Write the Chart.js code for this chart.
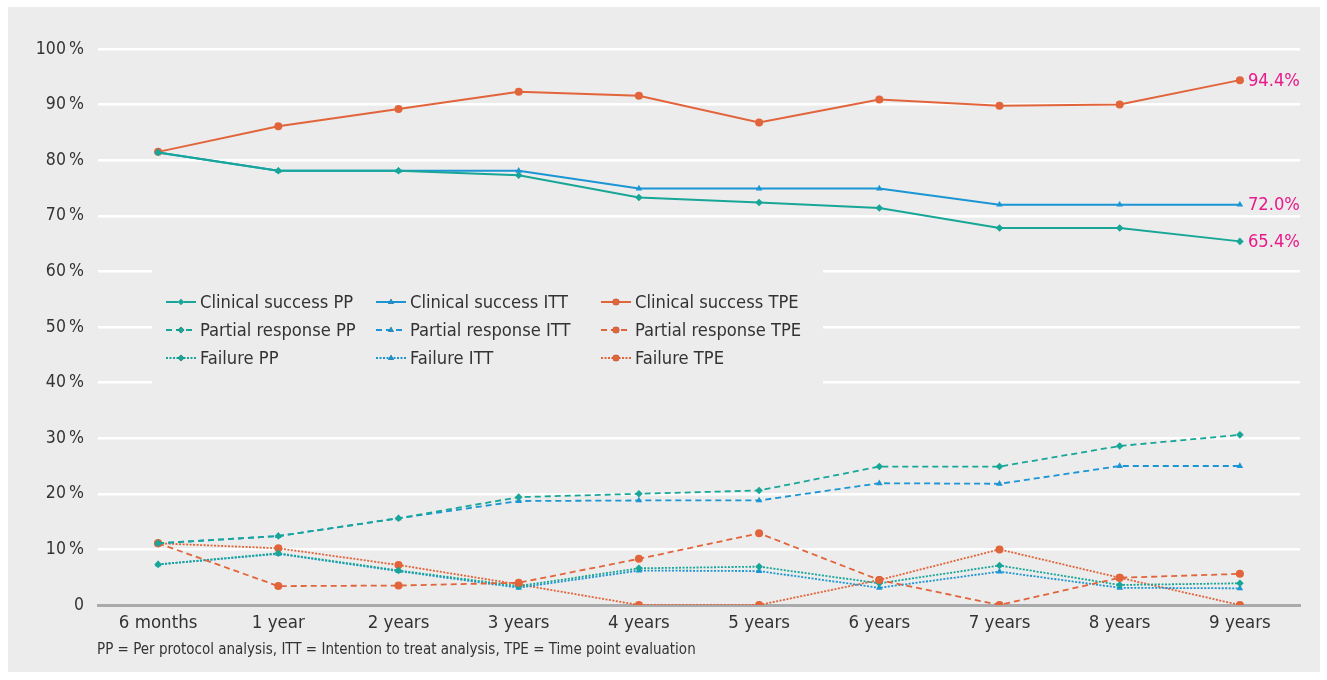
<!DOCTYPE html>
<html lang="en">
<head>
  <meta charset="UTF-8">
  <script src="https://cdn.jsdelivr.net/npm/chart.js"></script>
  <style>
    body { margin: 0; background: #ffffff; }
    #wrap { position: relative; width: 1327px; height: 680px; }
  </style>
  <title>Clinical success over time</title>
</head>
<body>
  <div id="wrap"><canvas id="chart" width="1327" height="680"></canvas></div>
  <script>
    const categories = ['6 months', '1 year', '2 years', '3 years', '4 years', '5 years', '6 years', '7 years', '8 years', '9 years'];

    const successPP  = [81.4, 78.1, 78.1, 77.3, 73.3, 72.4, 71.4, 67.8, 67.8, 65.4];
    const successITT = [81.4, 78.1, 78.1, 78.1, 74.9, 74.9, 74.9, 72.0, 72.0, 72.0];
    const successTPE = [81.5, 86.1, 89.2, 92.3, 91.6, 86.8, 90.9, 89.8, 90.0, 94.4];
    const partialPP  = [11.1, 12.4, 15.6, 19.4, 20.0, 20.6, 24.9, 24.9, 28.6, 30.6];
    const partialITT = [11.1, 12.4, 15.6, 18.7, 18.8, 18.8, 21.9, 21.8, 25.0, 25.0];
    const partialTPE = [11.1, 3.4, 3.5, 4.0, 8.3, 12.9, 4.5, 0, 4.9, 5.6];
    const failurePP  = [7.3, 9.3, 6.2, 3.4, 6.6, 6.9, 3.9, 7.1, 3.6, 3.9];
    const failureITT = [7.3, 9.2, 6.1, 3.1, 6.2, 6.1, 3.1, 6.0, 3.1, 3.0];
    const failureTPE = [11.1, 10.2, 7.2, 3.7, 0, 0, 4.5, 10.0, 4.9, 0];

    const yTicks = [0, 10, 20, 30, 40, 50, 60, 70, 80, 90, 100];
    const footnote = 'PP = Per protocol analysis, ITT = Intention to treat analysis, TPE = Time point evaluation';

    const teal = '#17a697';
    const blue = '#1b95d4';
    const orange = '#e2643b';
    const bg = '#ebeceb';
    const textCol = '#333333';
    const FONT = "'Liberation Sans Narrow', 'DejaVu Sans Condensed', sans-serif";

    function series(label, data, color, style, marker) {
      const dash = style === 'dash' ? [6, 4] : style === 'dot' ? [2, 1.5] : [];
      return {
        label: label,
        data: data,
        borderColor: color,
        backgroundColor: color,
        borderWidth: style === 'solid' ? 2 : 1.8,
        borderDash: dash,
        pointStyle: marker,
        pointRadius: marker === 'circle' ? 4 : 3.8,
        pointBorderWidth: 0,
        tension: 0
      };
    }

    const datasets = [
      series('Clinical success PP', successPP, teal, 'solid', 'rectRot'),
      series('Clinical success ITT', successITT, blue, 'solid', 'triangle'),
      series('Clinical success TPE', successTPE, orange, 'solid', 'circle'),
      series('Partial response PP', partialPP, teal, 'dash', 'rectRot'),
      series('Partial response ITT', partialITT, blue, 'dash', 'triangle'),
      series('Partial response TPE', partialTPE, orange, 'dash', 'circle'),
      series('Failure PP', failurePP, teal, 'dot', 'rectRot'),
      series('Failure ITT', failureITT, blue, 'dot', 'triangle'),
      series('Failure TPE', failureTPE, orange, 'dot', 'circle')
    ];

    // grey panel behind everything
    const panel = {
      id: 'panel',
      beforeDraw(chart) {
        const ctx = chart.ctx;
        ctx.save();
        ctx.fillStyle = bg;
        ctx.fillRect(8, 7, 1312, 665);
        ctx.restore();
      }
    };

    // legend box sits inside the plot, three columns
    const legendBox = {
      id: 'legendBox',
      beforeDatasetsDraw(chart) {
        const ctx = chart.ctx;
        ctx.save();
        ctx.fillStyle = bg;
        ctx.fillRect(152, 262, 671, 130);
        const colX = [166, 376, 601];
        const rowY = [302, 330, 358];
        ctx.font = '18.2px ' + FONT;
        ctx.textBaseline = 'middle';
        datasets.forEach((ds, i) => {
          const x = colX[i % 3];
          const y = rowY[Math.floor(i / 3)];
          ctx.strokeStyle = ds.borderColor;
          ctx.lineWidth = ds.borderWidth;
          ctx.setLineDash(ds.borderDash);
          ctx.beginPath();
          ctx.moveTo(x, y);
          ctx.lineTo(x + 30, y);
          ctx.stroke();
          ctx.setLineDash([]);
          Chart.helpers.drawPoint(ctx, { pointStyle: ds.pointStyle, radius: 3.3, rotation: 0, borderWidth: 0 }, x + 15, y);
          ctx.fillStyle = ds.borderColor;
          ctx.fill();
          ctx.fillStyle = textCol;
          ctx.fillText(ds.label, x + 34, y + 1);
        });
        ctx.restore();
      },
      afterDraw(chart) {
        const ctx = chart.ctx;
        ctx.save();
        // end labels for clinical success
        ctx.font = '18.2px ' + FONT;
        ctx.fillStyle = '#e8198b';
        ctx.textBaseline = 'middle';
        [0, 1, 2].forEach(i => {
          const pts = chart.getDatasetMeta(i).data;
          const p = pts[pts.length - 1];
          const v = datasets[i].data[datasets[i].data.length - 1];
          ctx.fillText(v.toFixed(1) + '%', p.x + 8, p.y + 1);
        });
        ctx.font = '15px ' + FONT;
        ctx.fillStyle = textCol;
        ctx.fillText(footnote, 97, 650);
        ctx.restore();
      }
    };

    new Chart(document.getElementById('chart'), {
      type: 'line',
      data: { labels: categories, datasets: datasets },
      options: {
        responsive: false,
        animation: false,
        layout: { padding: { left: 0, top: 49, right: 27, bottom: 0 } },
        plugins: { legend: { display: false }, tooltip: { enabled: false } },
        scales: {
          x: {
            offset: true,
            grid: { display: false, drawTicks: false },
            border: { display: true, color: '#a9aaab', width: 3 },
            ticks: { color: textCol, font: { family: FONT, size: 18.5 }, padding: 7, maxRotation: 0 },
            afterFit(scale) { scale.height = 75; }
          },
          y: {
            min: 0,
            max: 100,
            afterBuildTicks(scale) { scale.ticks = yTicks.map(v => ({ value: v })); },
            grid: {
              color: ctx => ctx.tick && ctx.tick.value === 0 ? 'rgba(0,0,0,0)' : '#ffffff',
              lineWidth: 2.5,
              drawTicks: false
            },
            border: { display: false },
            ticks: {
              color: textCol,
              font: { family: FONT, size: 17.5 },
              padding: 14,
              callback: v => v === 0 ? '0' : v + '\u2009%'
            },
            afterFit(scale) { scale.width = 98; }
          }
        }
      },
      plugins: [panel, legendBox]
    });
  </script>
</body>
</html>
